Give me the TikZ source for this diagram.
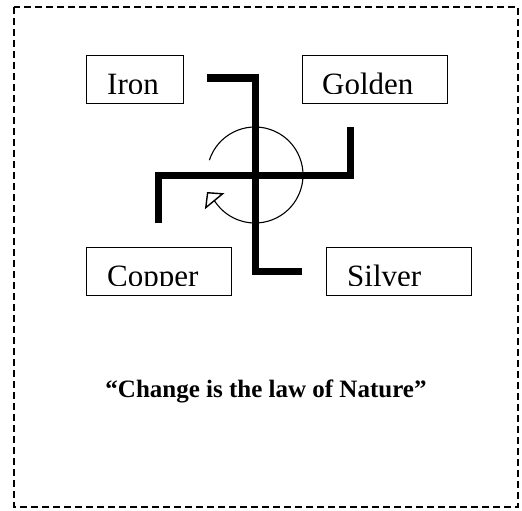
\documentclass[tikz,border=0pt]{standalone}
\usepackage{fontspec}
\setmainfont{Liberation Serif}
\usetikzlibrary{arrows.meta}
\begin{document}
\begin{tikzpicture}[x=1pt,y=-1pt,
  metalbox/.style={draw, line width=1.3pt, minimum width=#1, minimum height=48pt, inner sep=0pt, anchor=north west},
  metaltext/.style={font=\fontsize{31}{31}\selectfont, anchor=base west, inner sep=0pt},
  arm/.style={line width=7pt, line join=miter},
  turn/.style={line width=1.1pt, -{Triangle[open, length=12pt, width=25pt, line width=1.4pt]}},
  frame/.style={dash pattern=on 7pt off 4pt, line width=1.4pt},
]
\useasboundingbox (0,0) rectangle (522,511);
\draw[frame] (14,7) rectangle (518,507);

% boxes
\node[metalbox=97pt]  (iron)   at (86,55)  {};
\node[metalbox=145pt] (golden) at (302,55) {};
\node[metalbox=145pt] (copper) at (86,247) {};
\node[metalbox=145pt] (silver) at (326,247) {};

% clipped labels
\begin{scope}
  \clip (86,55) rectangle (183,93);
  \node[metaltext] (irontext) at (107,94) {Iron};
\end{scope}
\begin{scope}
  \clip (302,55) rectangle (447,93);
  \node[metaltext] (goldentext) at (322,94) {Golden};
\end{scope}
\begin{scope}
  \clip (86,247) rectangle (231,285);
  \node[metaltext] (coppertext) at (107,286) {Copper};
\end{scope}
\begin{scope}
  \clip (326,247) rectangle (471,285);
  \node[metaltext] (silvertext) at (347,286) {Silver};
\end{scope}

% swastika
\coordinate (c) at (255,175);
\draw[arm] (207,78) -- (255,78) -- (255,271) -- (302,271);
\draw[arm] (158,223) -- (158,175) -- (350,175) -- (350,127);

% rotation arrow
\coordinate (tip) at (207,192);
\draw[turn] (c) ++(198:48) arc[start angle=198, end angle=505, radius=48] -- (tip);

% quote
\node[font=\bfseries\fontsize{25}{25}\selectfont, anchor=base, inner sep=0pt] (quote) at (266,397) {“Change is the law of Nature”};
\end{tikzpicture}
\end{document}
